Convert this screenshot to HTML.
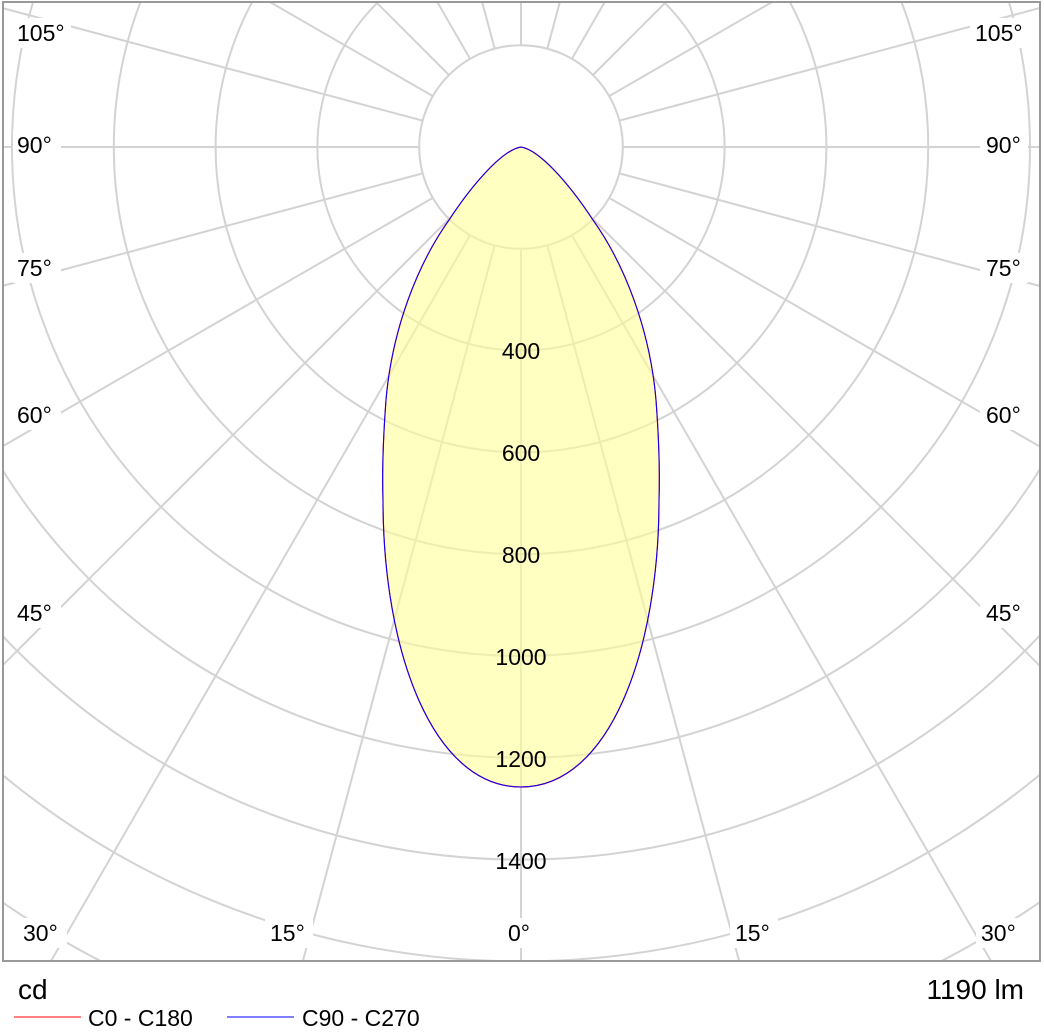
<!DOCTYPE html>
<html><head><meta charset="utf-8"><style>
html,body{margin:0;padding:0;background:#fff;overflow:hidden;width:1044px;height:1033px;}
svg{display:block;font-family:"Liberation Sans",Arial,sans-serif;}
</style></head><body>
<svg width="1044" height="1033" viewBox="0 0 1044 1033" xmlns="http://www.w3.org/2000/svg">
<defs><clipPath id="c"><rect x="3" y="2" width="1037" height="959"/></clipPath></defs>
<rect x="0" y="0" width="1044" height="1033" fill="#fff"/>
<g clip-path="url(#c)" stroke="#d3d3d3" stroke-width="2" fill="none">
<circle cx="521" cy="147" r="101.8"/>
<circle cx="521" cy="147" r="203.6"/>
<circle cx="521" cy="147" r="305.4"/>
<circle cx="521" cy="147" r="407.2"/>
<circle cx="521" cy="147" r="509"/>
<circle cx="521" cy="147" r="610.8"/>
<circle cx="521" cy="147" r="712.6"/>
<circle cx="521" cy="147" r="814.4"/>
<circle cx="521" cy="147" r="916.2"/>
<circle cx="521" cy="147" r="1018"/>
<circle cx="521" cy="147" r="1119.8"/>
<g id="rl">
<line x1="521" y1="248.8" x2="521" y2="1500"/>
</g>
<use href="#rl" transform="rotate(15 521 147)"/>
<use href="#rl" transform="rotate(30 521 147)"/>
<use href="#rl" transform="rotate(45 521 147)"/>
<use href="#rl" transform="rotate(60 521 147)"/>
<use href="#rl" transform="rotate(75 521 147)"/>
<use href="#rl" transform="rotate(90 521 147)"/>
<use href="#rl" transform="rotate(105 521 147)"/>
<use href="#rl" transform="rotate(120 521 147)"/>
<use href="#rl" transform="rotate(135 521 147)"/>
<use href="#rl" transform="rotate(150 521 147)"/>
<use href="#rl" transform="rotate(165 521 147)"/>
<use href="#rl" transform="rotate(180 521 147)"/>
<use href="#rl" transform="rotate(-15 521 147)"/>
<use href="#rl" transform="rotate(-30 521 147)"/>
<use href="#rl" transform="rotate(-45 521 147)"/>
<use href="#rl" transform="rotate(-60 521 147)"/>
<use href="#rl" transform="rotate(-75 521 147)"/>
<use href="#rl" transform="rotate(-90 521 147)"/>
<use href="#rl" transform="rotate(-105 521 147)"/>
<use href="#rl" transform="rotate(-120 521 147)"/>
<use href="#rl" transform="rotate(-135 521 147)"/>
<use href="#rl" transform="rotate(-150 521 147)"/>
<use href="#rl" transform="rotate(-165 521 147)"/>
</g>
<path d="M521,147 C540,150 570,185 593,220 C625,265 650,330 656,400 C659,440 660,470 659,500 C659,650 610,787 521,787 C432,787 383,650 383,500 C382,470 383,440 386,400 C392,330 417,265 449,220 C472,185 502,150 521,147 Z" fill="#ffff99" fill-opacity="0.6" stroke="#ff0000" stroke-width="1.2"/>
<path d="M521,147 C540,150 570,185 593,220 C625,265 650,330 656,400 C659,440 660,470 659,500 C659,650 610,787 521,787 C432,787 383,650 383,500 C382,470 383,440 386,400 C392,330 417,265 449,220 C472,185 502,150 521,147 Z" fill="none" stroke="#0000ff" stroke-width="1"/>
<rect x="3" y="2" width="1037" height="959" fill="none" stroke="#999" stroke-width="2"/>
<g font-size="23" fill="#000">
<g fill="#fff" stroke="none">
<rect x="13" y="18" width="58" height="30"/><rect x="970" y="18" width="58" height="30"/>
<rect x="13" y="130" width="48" height="30"/><rect x="980" y="130" width="48" height="30"/>
<rect x="13" y="253" width="48" height="30"/><rect x="980" y="253" width="48" height="30"/>
<rect x="13" y="400" width="48" height="30"/><rect x="980" y="400" width="48" height="30"/>
<rect x="13" y="598" width="48" height="30"/><rect x="980" y="598" width="48" height="30"/>
<rect x="19" y="918" width="48" height="30"/><rect x="976" y="918" width="48" height="30"/>
<rect x="265" y="918" width="48" height="30"/><rect x="730" y="918" width="48" height="30"/>
<rect x="503" y="918" width="36" height="30"/>
</g>
<text x="17" y="41">105°</text><text x="975" y="41">105°</text>
<text x="17" y="153">90°</text><text x="986" y="153">90°</text>
<text x="17" y="276">75°</text><text x="986" y="276">75°</text>
<text x="17" y="423">60°</text><text x="986" y="423">60°</text>
<text x="17" y="621">45°</text><text x="986" y="621">45°</text>
<text x="23" y="941">30°</text><text x="981" y="941">30°</text>
<text x="270" y="941">15°</text><text x="735" y="941">15°</text>
<text x="508" y="941">0°</text>
<g text-anchor="middle">
<text x="521" y="359">400</text>
<text x="521" y="461">600</text>
<text x="521" y="563">800</text>
<text x="521" y="665">1000</text>
<text x="521" y="767">1200</text>
<text x="521" y="869">1400</text>
</g>
<text x="18" y="999" font-size="28">cd</text>
<text x="1024" y="999" font-size="28" text-anchor="end">1190 lm</text>
<line x1="14" y1="1017" x2="81" y2="1017" stroke="#ff0000" stroke-width="1"/>
<text x="88" y="1026">C0 - C180</text>
<line x1="227" y1="1017" x2="294" y2="1017" stroke="#0000ff" stroke-width="1"/>
<text x="302" y="1026">C90 - C270</text>
</g>
</svg>
</body></html>
